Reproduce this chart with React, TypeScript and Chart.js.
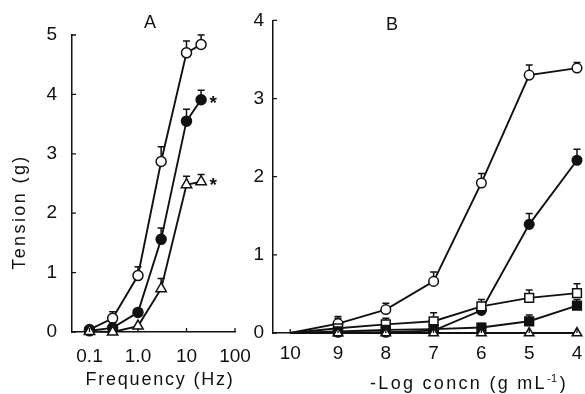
import React, { useEffect, useRef } from "react";
import { Chart, registerables } from "chart.js";

Chart.register(...registerables);

const FONT = "'Liberation Sans', Arial, Helvetica, sans-serif";
const INK = "#111111";

// ---------- Panel A: frequency-response ----------
const frequencyHz = [0.1, 0.3, 1, 3, 10, 20];
const aOpenCircle = [0.04, 0.23, 0.95, 2.87, 4.7, 4.84];
const aOpenCircleErr = [0, 0.11, 0.15, 0.25, 0.2, 0.16];
const aFilledCircle = [0.02, 0.07, 0.33, 1.56, 3.55, 3.91];
const aFilledCircleErr = [0, 0, 0.05, 0.19, 0.2, 0.16];
const aOpenTriangle = [0.01, 0, 0.1, 0.73, 2.48, 2.53];
const aOpenTriangleErr = [0, 0, 0, 0.17, 0.14, 0.12];
const freqTickValues = [0.1, 1, 10, 100];
const freqTickLabels = ["0.1", "1.0", "10", "100"];
const tensionTicksA = [0, 1, 2, 3, 4, 5];

// ---------- Panel B: concentration-response ----------
const negLogConc = [10, 9, 8, 7, 6, 5, 4];
const bOpenCircle = [0, 0.12, 0.3, 0.66, 1.92, 3.3, 3.39];
const bOpenCircleErr = [0, 0.09, 0.08, 0.12, 0.12, 0.13, 0.07];
const bFilledCircle = [0, 0.01, 0.01, 0.03, 0.29, 1.39, 2.21];
const bFilledCircleErr = [0, 0, 0, 0, 0.06, 0.14, 0.14];
const bOpenSquare = [0, 0.06, 0.11, 0.15, 0.34, 0.45, 0.51];
const bOpenSquareErr = [0, 0.13, 0.08, 0.11, 0.09, 0.1, 0.12];
const bFilledSquare = [0, 0.02, 0.04, 0.05, 0.07, 0.15, 0.35];
const bFilledSquareErr = [0, 0, 0, 0, 0.05, 0.08, 0.08];
const bOpenTriangle = [0, 0, 0, 0, 0, 0, 0];
const concTickValues = [10, 9, 8, 7, 6, 5, 4];
const tensionTicksB = [0, 1, 2, 3, 4];

function series(
  xs: number[],
  ys: number[],
  errs: number[],
  style: string,
  filled: boolean,
  radius: number,
  hideFirst: boolean,
  star = false
) {
  return {
    data: xs.map((x, i) => ({ x, y: ys[i] })),
    errors: errs,
    star,
    borderColor: INK,
    borderWidth: 1.9,
    pointStyle: style,
    pointRadius: xs.map((_, i) => (hideFirst && i === 0 ? 0 : radius)),
    pointBackgroundColor: filled ? INK : "#ffffff",
    pointBorderColor: INK,
    pointBorderWidth: 1.5,
    tension: 0,
    clip: false as any,
    fill: false,
  };
}

const errorBars = {
  id: "errorBars",
  beforeDatasetsDraw(chart: any) {
    const ctx = chart.ctx;
    const ys = chart.scales.y;
    chart.data.datasets.forEach((ds: any, i: number) => {
      const errs = ds.errors as number[];
      if (!errs) return;
      const meta = chart.getDatasetMeta(i);
      ctx.save();
      ctx.strokeStyle = INK;
      ctx.lineWidth = 1.5;
      meta.data.forEach((pt: any, j: number) => {
        const e = errs[j];
        if (!e) return;
        const top = ys.getPixelForValue(ds.data[j].y + e);
        ctx.beginPath();
        ctx.moveTo(pt.x, pt.y);
        ctx.lineTo(pt.x, top);
        ctx.moveTo(pt.x - 3.5, top);
        ctx.lineTo(pt.x + 3.5, top);
        ctx.stroke();
      });
      ctx.restore();
    });
  },
  afterDatasetsDraw(chart: any) {
    const ctx = chart.ctx;
    chart.data.datasets.forEach((ds: any, i: number) => {
      if (!ds.star) return;
      const meta = chart.getDatasetMeta(i);
      const pt = meta.data[meta.data.length - 1];
      ctx.save();
      ctx.fillStyle = INK;
      ctx.font = `bold 19px ${FONT}`;
      ctx.textAlign = "center";
      ctx.textBaseline = "middle";
      ctx.fillText("*", pt.x + 12, pt.y + 4);
      ctx.restore();
    });
  },
};

const inwardTicks = {
  id: "inwardTicks",
  afterDraw(chart: any) {
    const ctx = chart.ctx;
    const { x, y } = chart.scales;
    const area = chart.chartArea;
    ctx.save();
    ctx.strokeStyle = INK;
    ctx.lineWidth = 1.3;
    ctx.beginPath();
    x.ticks.forEach((t: any) => {
      const px = x.getPixelForValue(t.value);
      ctx.moveTo(px, area.bottom);
      ctx.lineTo(px, area.bottom - 4);
    });
    y.ticks.forEach((t: any) => {
      const py = y.getPixelForValue(t.value);
      ctx.moveTo(area.left, py);
      ctx.lineTo(area.left + 4, py);
    });
    ctx.stroke();
    ctx.restore();
  },
};

function spaced(
  ctx: CanvasRenderingContext2D,
  text: string,
  x: number,
  y: number,
  size: number,
  spacing: number
) {
  ctx.save();
  ctx.font = `${size}px ${FONT}`;
  (ctx as any).letterSpacing = `${spacing}px`;
  ctx.textAlign = "center";
  ctx.textBaseline = "alphabetic";
  ctx.fillStyle = INK;
  ctx.fillText(text, x, y);
  ctx.restore();
}

const annotationsA = {
  id: "annotationsA",
  afterDraw(chart: any) {
    const ctx = chart.ctx as CanvasRenderingContext2D;
    spaced(ctx, "A", 150, 28, 18, 0);
    spaced(ctx, "Frequency (Hz)", 160, 385, 18, 1.8);
    ctx.save();
    ctx.translate(25, 212);
    ctx.rotate(-Math.PI / 2);
    spaced(ctx, "Tension (g)", 0, 0, 18, 2.4);
    ctx.restore();
  },
};

const annotationsB = {
  id: "annotationsB",
  afterDraw(chart: any) {
    const ctx = chart.ctx as CanvasRenderingContext2D;
    spaced(ctx, "B", 152, 30, 18, 0);
    const main = "-Log concn (g mL";
    const sup = "-1";
    const close = ")";
    ctx.save();
    (ctx as any).letterSpacing = "2.3px";
    ctx.font = `18px ${FONT}`;
    const w1 = ctx.measureText(main).width;
    const w3 = ctx.measureText(close).width;
    ctx.font = `11px ${FONT}`;
    (ctx as any).letterSpacing = "0.5px";
    const w2 = ctx.measureText(sup).width;
    const total = w1 + w2 + w3 + 2;
    let x0 = 229 - total / 2;
    const base = 389;
    ctx.fillStyle = INK;
    ctx.textAlign = "left";
    ctx.textBaseline = "alphabetic";
    ctx.font = `18px ${FONT}`;
    (ctx as any).letterSpacing = "2.3px";
    ctx.fillText(main, x0, base);
    x0 += w1;
    ctx.font = `11px ${FONT}`;
    (ctx as any).letterSpacing = "0.5px";
    ctx.fillText(sup, x0, base - 7);
    x0 += w2 + 2;
    ctx.font = `18px ${FONT}`;
    (ctx as any).letterSpacing = "2.3px";
    ctx.fillText(close, x0, base);
    ctx.restore();
  },
};

const tickFont = { family: FONT, size: 19 };

function configA(): any {
  return {
    type: "line",
    data: {
      datasets: [
        series(frequencyHz, aOpenTriangle, aOpenTriangleErr, "triangle", false, 6, false, true),
        series(frequencyHz, aFilledCircle, aFilledCircleErr, "circle", true, 5, false, true),
        series(frequencyHz, aOpenCircle, aOpenCircleErr, "circle", false, 5, false),
      ],
    },
    options: {
      responsive: false,
      animation: false,
      devicePixelRatio: 1,
      layout: { padding: { top: 35, right: 20, left: 0, bottom: 0 } },
      plugins: { legend: { display: false }, tooltip: { enabled: false }, title: { display: false } },
      scales: {
        x: {
          type: "logarithmic",
          min: 0.0436,
          max: 100,
          afterBuildTicks: (s: any) => {
            s.ticks = freqTickValues.map((v) => ({ value: v }));
          },
          afterFit: (s: any) => {
            s.height = 62;
            s.paddingLeft = 0;
            s.paddingRight = 0;
          },
          grid: { display: false, drawTicks: false },
          border: { display: true, color: INK, width: 1.5 },
          ticks: {
            autoSkip: false,
            maxRotation: 0,
            minRotation: 0,
            padding: 13,
            color: INK,
            font: tickFont,
            callback: (_v: any, i: number) => freqTickLabels[i],
          },
        },
        y: {
          type: "linear",
          min: 0,
          max: 5,
          afterBuildTicks: (s: any) => {
            s.ticks = tensionTicksA.map((v) => ({ value: v }));
          },
          afterFit: (s: any) => {
            s.width = 72;
          },
          grid: { display: false, drawTicks: false },
          border: { display: true, color: INK, width: 1.5 },
          ticks: { padding: 15, color: INK, font: tickFont, callback: (v: any) => String(v) },
        },
      },
    },
    plugins: [errorBars, inwardTicks, annotationsA],
  };
}

function configB(): any {
  return {
    type: "line",
    data: {
      datasets: [
        series(negLogConc, bOpenTriangle, [], "triangle", false, 5.5, true),
        series(negLogConc, bFilledSquare, bFilledSquareErr, "rect", true, 6.2, true),
        series(negLogConc, bOpenSquare, bOpenSquareErr, "rect", false, 6.2, true),
        series(negLogConc, bFilledCircle, bFilledCircleErr, "circle", true, 4.8, true),
        series(negLogConc, bOpenCircle, bOpenCircleErr, "circle", false, 4.8, true),
      ],
    },
    options: {
      responsive: false,
      animation: false,
      devicePixelRatio: 1,
      layout: { padding: { top: 19, right: 8, left: 0, bottom: 0 } },
      plugins: { legend: { display: false }, tooltip: { enabled: false }, title: { display: false } },
      scales: {
        x: {
          type: "linear",
          reverse: true,
          min: 4,
          max: 10.36,
          afterBuildTicks: (s: any) => {
            s.ticks = concTickValues.map((v) => ({ value: v }));
          },
          afterFit: (s: any) => {
            s.height = 61;
            s.paddingLeft = 0;
            s.paddingRight = 0;
          },
          grid: { display: false, drawTicks: false },
          border: { display: true, color: INK, width: 1.5 },
          ticks: {
            autoSkip: false,
            maxRotation: 0,
            minRotation: 0,
            padding: 9,
            color: INK,
            font: tickFont,
            callback: (v: any) => String(v),
          },
        },
        y: {
          type: "linear",
          min: 0,
          max: 4,
          afterBuildTicks: (s: any) => {
            s.ticks = tensionTicksB.map((v) => ({ value: v }));
          },
          afterFit: (s: any) => {
            s.width = 33;
          },
          grid: { display: false, drawTicks: false },
          border: { display: true, color: INK, width: 1.5 },
          ticks: { padding: 9, color: INK, font: tickFont, callback: (v: any) => String(v) },
        },
      },
    },
    plugins: [errorBars, inwardTicks, annotationsB],
  };
}

export default function App() {
  const refA = useRef<HTMLCanvasElement>(null);
  const refB = useRef<HTMLCanvasElement>(null);
  useEffect(() => {
    const a = new Chart(refA.current!, configA());
    const b = new Chart(refB.current!, configB());
    return () => {
      a.destroy();
      b.destroy();
    };
  }, []);
  return (
    <div
      style={{
        position: "fixed",
        left: 0,
        top: 0,
        width: 585,
        height: 394,
        background: "#ffffff",
        overflow: "hidden",
      }}
    >
      <canvas
        ref={refA}
        width={255}
        height={394}
        style={{ position: "absolute", left: 0, top: 0, width: 255, height: 394 }}
      />
      <canvas
        ref={refB}
        width={345}
        height={394}
        style={{ position: "absolute", left: 240, top: 0, width: 345, height: 394 }}
      />
    </div>
  );
}
